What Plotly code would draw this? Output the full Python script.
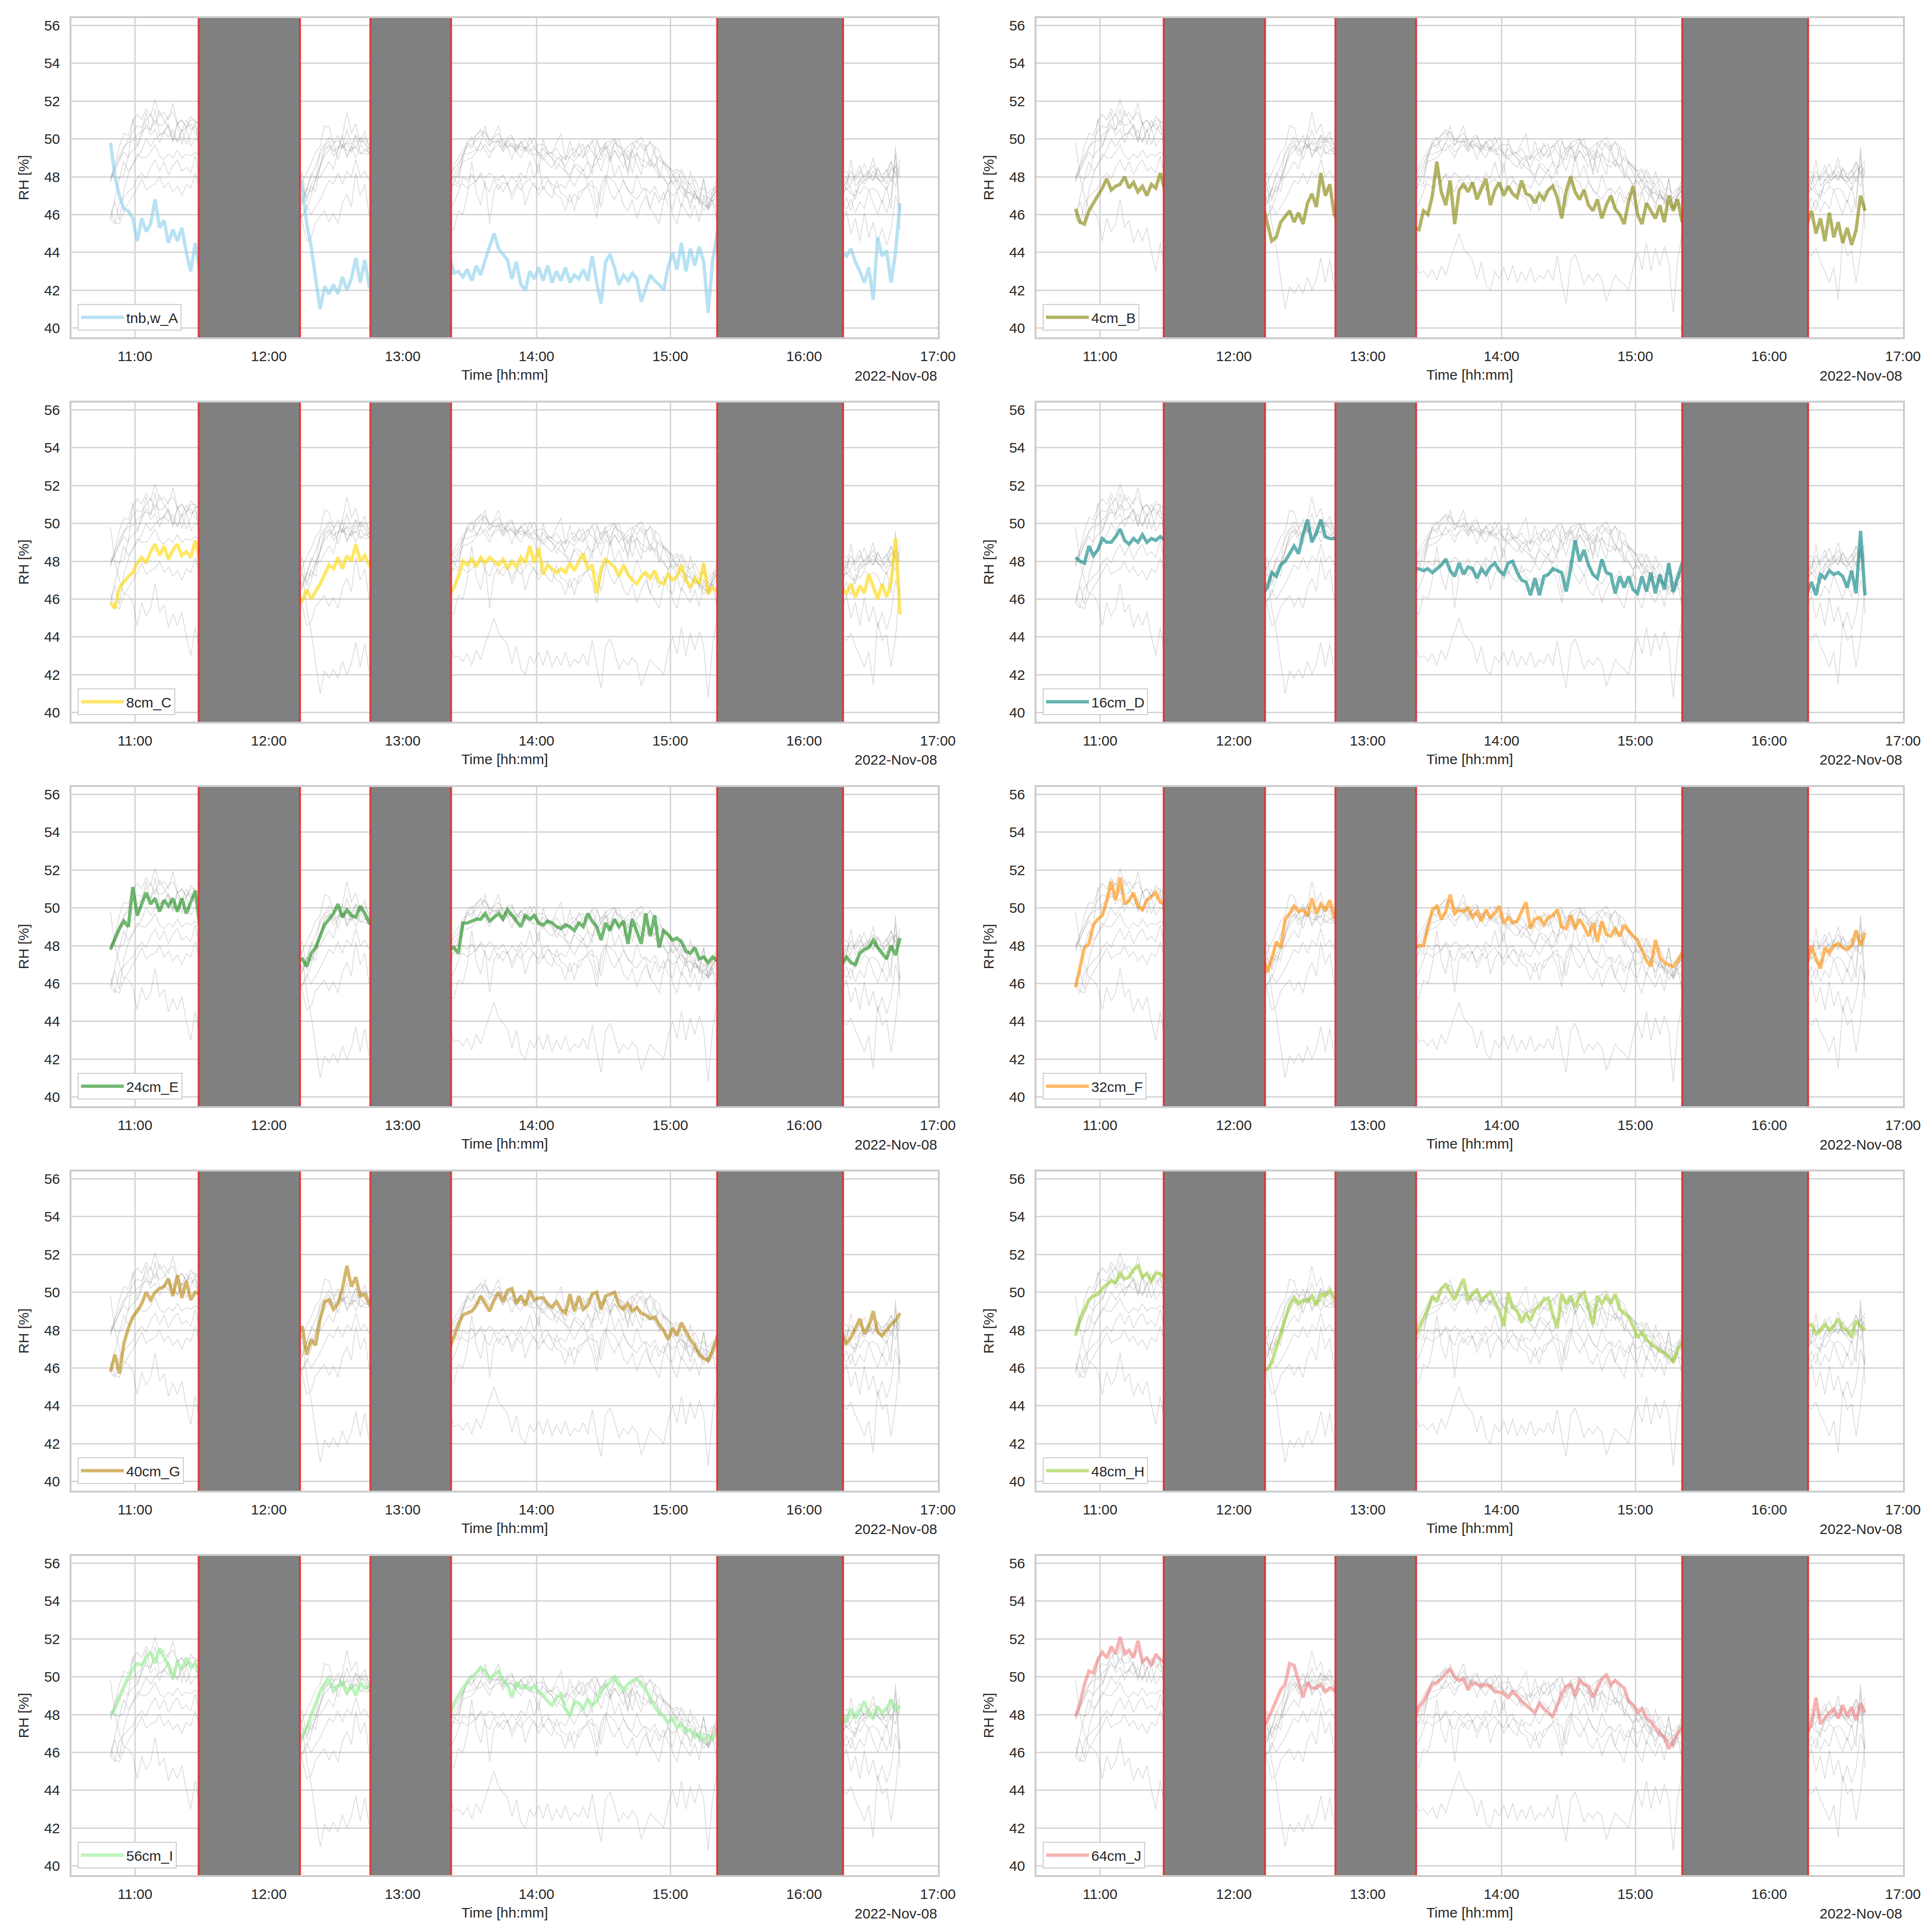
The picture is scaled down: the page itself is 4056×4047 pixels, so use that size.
import pandas as pd
import plotly.graph_objects as go
from plotly.subplots import make_subplots

W, H = 4056, 4047
day = "2022-11-08"

# sampling grid: each measurement block starts here, one value every 2 min
seg_start = ["10:49", "12:13", "13:21", "16:17"]
step = "2min"

labels = ["tnb,w_A", "4cm_B", "8cm_C", "16cm_D", "24cm_E",
          "32cm_F", "40cm_G", "48cm_H", "56cm_I", "64cm_J"]
colors = ["rgba(135,206,235,0.6)", "rgba(128,128,0,0.6)", "rgba(255,215,0,0.6)",
          "rgba(0,128,128,0.6)", "rgba(0,128,0,0.55)", "rgba(255,140,0,0.6)",
          "rgba(184,134,11,0.6)", "rgba(154,205,50,0.6)", "rgba(144,238,144,0.6)",
          "rgba(240,128,128,0.6)"]

# gray (excluded) periods
band_start = ["11:28:30", "12:45:30", "15:21:00"]
band_end = ["12:14:00", "13:21:45", "16:17:30"]

rh_A = [[49.8, 48.0, 47.0, 46.3, 46.2, 45.8, 44.6, 45.8, 45.1, 45.5, 46.8, 45.3, 45.7, 44.5, 45.2, 44.6, 45.3, 44.0, 43.0, 44.5, 43.1],
        [48.3, 47.5, 45.5, 44.3, 42.6, 41.0, 42.2, 41.8, 42.3, 41.8, 42.7, 42.0, 42.6, 43.7, 42.4, 43.6, 42.2, 42.0],
        [43.8, 42.9, 43.0, 42.7, 43.1, 42.5, 43.3, 42.8, 43.6, 44.3, 45.0, 44.2, 43.9, 43.6, 42.6, 43.5, 42.3, 42.0, 43.0, 42.6,
         43.2, 42.5, 43.3, 42.4, 43.0, 42.5, 43.2, 42.4, 42.8, 42.6, 43.1, 42.5, 43.8, 42.4, 41.3, 43.5, 43.9, 43.2, 42.3, 42.8,
         42.5, 42.9, 42.6, 41.4, 42.1, 42.8, 42.5, 42.3, 42.0, 43.2, 44.0, 43.1, 44.5, 43.0, 44.2, 43.3, 44.3, 43.5, 40.8, 43.6,
         45.0, 45.5],
        [44.0, 43.8, 44.2, 43.5, 43.0, 42.4, 43.2, 41.5, 44.8, 43.8, 44.1, 42.4, 44.0, 46.6]]

rh_B = [[46.3, 45.6, 45.5, 46.2, 46.6, 47.0, 47.4, 47.9, 47.3, 47.5, 47.6, 48.0, 47.4, 47.7, 47.2, 47.5, 47.0, 47.6, 47.4, 48.2, 47.3],
        [46.5, 45.6, 44.6, 44.8, 45.6, 45.9, 46.2, 45.6, 46.1, 45.5, 46.6, 47.1, 46.4, 48.2, 47.0, 47.6, 46.0, 45.6],
        [45.3, 45.2, 46.2, 46.0, 47.0, 48.8, 47.2, 46.5, 47.8, 45.5, 47.3, 47.6, 47.2, 47.7, 46.8, 47.4, 47.9, 46.5, 47.3, 47.7,
         47.0, 47.5, 47.1, 46.9, 47.8, 47.1, 47.0, 46.6, 47.1, 46.8, 47.3, 47.5, 46.9, 45.8, 47.2, 48.0, 47.2, 46.8, 47.3, 46.5,
         46.2, 46.8, 45.8, 46.5, 47.0, 46.3, 46.0, 45.5, 46.7, 47.5, 46.0, 45.5, 46.6, 46.2, 45.8, 46.5, 45.6, 47.0, 46.2, 46.8,
         45.6, 46.2],
        [45.5, 46.2, 45.0, 45.8, 44.6, 46.1, 44.8, 45.6, 44.5, 45.3, 44.4, 45.2, 47.0, 46.2]]

rh_C = [[45.8, 45.5, 46.6, 46.9, 47.2, 47.4, 47.9, 48.2, 47.9, 48.5, 48.9, 48.3, 48.8, 48.1, 48.6, 48.9, 48.3, 48.5, 48.2, 49.1, 48.0],
        [46.1, 45.9, 46.5, 46.0, 46.4, 46.8, 47.3, 47.8, 47.6, 48.2, 47.6, 48.3, 48.0, 48.9, 48.0, 48.3, 47.8, 48.0],
        [46.2, 46.6, 47.2, 48.0, 47.8, 48.1, 47.7, 48.2, 47.9, 48.2, 48.0, 47.8, 48.1, 47.6, 48.0, 47.7, 48.2, 47.9, 48.8, 47.9,
         48.7, 47.3, 47.8, 47.6, 47.4, 47.6, 47.4, 47.9, 47.5, 48.0, 48.4, 47.6, 47.8, 46.3, 47.6, 48.1, 47.9, 47.7, 47.2, 47.8,
         47.3, 47.0, 46.8, 47.2, 47.4, 47.1, 47.5, 46.9, 46.8, 47.3, 47.0, 47.2, 47.8, 47.0, 46.6, 47.1, 46.8, 47.9, 46.3, 46.6,
         46.4, 46.5],
        [46.6, 46.3, 46.8, 46.1, 46.7, 46.3, 47.3, 46.6, 46.0, 46.8, 46.1, 46.9, 49.2, 45.2]]

rh_D = [[48.2, 48.0, 47.9, 48.8, 48.3, 48.6, 49.2, 49.0, 49.0, 49.3, 49.7, 49.1, 48.9, 49.2, 49.0, 49.4, 49.0, 49.2, 49.1, 49.3, 49.1],
        [46.3, 46.6, 47.4, 47.2, 47.8, 48.0, 48.4, 48.8, 48.4, 49.4, 50.2, 49.0, 49.5, 50.2, 49.3, 49.2, 49.2, 49.2],
        [47.6, 47.6, 47.5, 47.6, 47.4, 47.6, 47.8, 48.1, 47.5, 47.2, 47.9, 47.3, 47.7, 47.6, 47.1, 47.6, 47.3, 47.7, 47.9, 47.5,
         47.3, 47.9, 48.0, 47.4, 47.0, 46.9, 46.2, 47.1, 46.2, 47.2, 47.3, 47.6, 47.5, 47.4, 46.4, 47.6, 49.1, 48.0, 48.6, 47.8,
         47.3, 47.1, 48.1, 47.4, 47.3, 46.3, 47.2, 46.6, 47.2, 46.5, 46.3, 47.2, 46.4, 47.4, 46.3, 47.3, 46.5, 47.9, 46.4, 47.2,
         47.9, 46.6],
        [46.3, 46.9, 46.2, 47.3, 47.1, 47.5, 47.3, 47.4, 47.2, 46.6, 47.5, 46.3, 49.6, 46.2]]

rh_E = [[47.8, 48.4, 48.9, 49.3, 49.0, 51.1, 49.6, 50.2, 50.8, 50.2, 50.5, 49.8, 50.4, 50.1, 50.5, 49.8, 50.5, 49.7, 50.3, 50.9, 49.1],
        [47.2, 47.3, 46.9, 47.6, 47.9, 48.5, 49.1, 49.4, 49.7, 50.2, 49.5, 49.9, 49.6, 49.5, 50.1, 49.7, 49.2, 49.2],
        [47.8, 47.9, 47.6, 49.2, 49.2, 49.3, 49.4, 49.4, 49.7, 49.3, 49.5, 49.7, 49.4, 49.9, 49.6, 49.3, 49.0, 49.6, 49.4, 49.6,
         49.2, 49.1, 49.3, 49.2, 49.0, 48.9, 49.1, 49.0, 48.8, 49.2, 49.0, 49.7, 49.3, 49.0, 48.3, 49.2, 48.8, 49.4, 49.0, 49.3,
         48.1, 49.4, 48.7, 48.1, 49.7, 48.5, 49.6, 47.9, 48.8, 48.6, 48.3, 48.4, 48.2, 47.7, 47.6, 47.9, 47.3, 47.4, 47.1, 47.4,
         47.2, 47.2],
        [47.0, 47.4, 47.1, 47.0, 47.6, 47.8, 47.9, 48.3, 47.9, 47.6, 47.3, 48.0, 47.5, 48.4]]

rh_F = [[45.8, 46.9, 47.9, 48.1, 49.1, 49.4, 49.6, 50.4, 51.4, 50.4, 51.6, 50.2, 50.4, 50.8, 50.1, 49.9, 50.4, 50.6, 50.8, 50.3, 50.2],
        [47.5, 46.6, 47.3, 48.2, 47.9, 49.4, 49.7, 50.1, 49.8, 49.9, 49.6, 50.5, 49.7, 50.2, 49.9, 50.4, 49.5, 49.4],
        [47.9, 48.0, 48.0, 48.9, 49.9, 50.1, 49.4, 49.8, 50.7, 49.7, 49.9, 49.8, 50.0, 49.5, 49.8, 49.3, 49.9, 49.5, 49.7, 50.1,
         49.2, 49.5, 49.2, 49.3, 49.8, 50.3, 48.9, 49.4, 49.5, 49.1, 49.5, 49.6, 49.9, 49.0, 48.9, 49.6, 48.9, 49.4, 49.0, 48.5,
         49.2, 48.2, 49.3, 48.6, 48.5, 48.9, 48.5, 49.1, 48.8, 48.5, 48.3, 47.7, 47.2, 46.9, 48.3, 47.4, 47.1, 47.0, 46.9, 47.2,
         47.6, 47.0],
        [47.1, 48.0, 47.3, 46.8, 47.9, 47.6, 48.0, 48.1, 47.9, 47.8, 48.0, 48.8, 48.0, 48.7]]

rh_G = [[45.8, 46.7, 45.7, 47.3, 48.1, 48.7, 49.0, 49.4, 50.0, 49.6, 50.0, 50.2, 50.3, 50.7, 49.8, 50.9, 49.7, 50.6, 49.6, 50.0, 49.9],
        [47.8, 48.2, 46.7, 47.5, 47.2, 48.6, 49.5, 49.6, 49.1, 49.4, 50.2, 51.4, 50.3, 50.8, 49.8, 49.9, 49.4, 49.4],
        [47.0, 47.7, 48.3, 48.8, 48.9, 49.0, 49.3, 49.8, 49.4, 49.0, 49.6, 50.0, 49.5, 50.1, 50.2, 49.4, 49.8, 49.3, 50.1, 49.6,
         49.7, 49.7, 49.4, 49.2, 49.5, 49.1, 48.9, 49.9, 49.0, 49.8, 49.1, 49.3, 49.9, 50.0, 49.1, 49.8, 49.9, 50.0, 49.3, 49.1,
         49.4, 49.0, 49.2, 48.9, 48.8, 48.6, 48.7, 48.3, 48.0, 47.5, 48.1, 47.7, 48.4, 47.9, 47.5, 47.2, 46.7, 46.5, 46.4, 46.9,
         47.6, 47.5],
        [47.8, 47.3, 47.6, 48.1, 48.6, 47.8, 48.2, 49.0, 47.9, 47.7, 48.0, 48.3, 48.5, 48.9]]

rh_H = [[47.7, 48.6, 49.1, 49.6, 49.8, 49.9, 50.2, 50.4, 50.6, 50.5, 51.0, 50.7, 50.8, 51.2, 51.4, 50.8, 51.0, 50.6, 51.0, 51.0, 50.7],
        [45.9, 45.9, 46.3, 47.0, 47.8, 48.6, 49.3, 49.7, 49.4, 49.6, 49.5, 49.8, 49.3, 49.9, 49.8, 50.1, 49.7, 49.6],
        [47.6, 48.1, 48.5, 49.1, 49.8, 49.5, 50.2, 50.4, 50.0, 49.6, 50.2, 50.7, 49.6, 49.9, 50.1, 49.6, 49.8, 50.0, 49.5, 49.0,
         48.2, 50.0, 49.2, 49.0, 48.4, 48.9, 48.5, 49.1, 49.3, 49.6, 49.7, 48.8, 48.1, 49.9, 49.4, 49.8, 49.2, 49.8, 50.0, 49.1,
         48.3, 49.8, 49.4, 49.8, 49.4, 49.9, 49.1, 48.9, 48.7, 48.2, 47.6, 47.9, 47.5, 47.3, 47.1, 46.9, 46.8, 46.6, 46.3, 47.0,
         47.3, 47.2],
        [48.2, 48.3, 47.8, 48.0, 48.3, 48.0, 48.2, 48.6, 48.1, 48.0, 47.6, 48.5, 48.2, 48.0]]

rh_I = [[48.0, 48.3, 48.9, 49.5, 50.0, 50.4, 50.7, 50.6, 51.0, 51.3, 50.7, 51.5, 51.0, 50.6, 49.9, 50.8, 50.4, 51.0, 50.5, 50.7, 50.2],
        [46.6, 46.9, 47.3, 48.0, 48.6, 49.2, 49.6, 49.9, 49.3, 49.5, 49.7, 49.1, 49.6, 49.0, 49.7, 49.4, 49.5, 49.5],
        [48.0, 48.6, 49.0, 49.4, 49.7, 50.0, 50.2, 50.5, 50.3, 49.9, 50.1, 50.3, 49.8, 49.6, 48.9, 49.7, 49.4, 49.5, 49.3, 49.5,
         49.2, 49.0, 48.7, 48.5, 48.9, 49.1, 48.3, 47.9, 48.7, 48.6, 48.3, 48.8, 48.5, 48.7, 49.3, 49.5, 49.7, 50.0, 49.6, 49.3,
         49.6, 49.8, 49.9, 49.6, 49.3, 48.9, 48.4, 48.1, 47.9, 47.6, 47.8, 47.3, 47.5, 47.1, 47.2, 46.8, 47.0, 46.6, 46.9, 46.7,
         47.1, 47.0],
        [48.1, 47.6, 48.3, 47.8, 48.2, 48.7, 48.0, 47.8, 48.4, 48.1, 48.3, 48.8, 48.2, 48.5]]

rh_J = [[47.9, 48.6, 49.6, 50.3, 50.2, 50.9, 51.3, 51.0, 51.6, 51.2, 52.1, 51.2, 51.4, 51.0, 51.9, 50.8, 51.0, 50.6, 51.2, 50.9, 50.8],
        [47.3, 47.7, 48.2, 48.7, 49.3, 49.6, 50.7, 50.6, 49.8, 48.9, 49.7, 49.4, 49.4, 49.6, 49.2, 49.4, 49.3, 49.4],
        [47.9, 48.4, 48.7, 49.2, 49.6, 49.7, 49.9, 50.2, 50.4, 50.0, 49.8, 49.9, 49.3, 49.7, 49.6, 49.5, 49.6, 49.5, 49.2, 49.2,
         49.1, 48.9, 49.2, 49.0, 48.7, 48.5, 48.3, 48.1, 48.6, 48.3, 48.1, 47.9, 48.5, 49.1, 49.5, 49.6, 49.0, 49.8, 49.6, 49.5,
         48.9, 49.4, 49.9, 50.1, 49.6, 49.8, 49.6, 49.4, 48.7, 48.5, 48.1, 48.3, 47.8, 47.6, 47.3, 47.0, 46.8, 46.2, 46.6, 47.0,
         47.3, 47.3],
        [47.0, 47.5, 48.9, 47.5, 47.8, 48.1, 48.3, 47.8, 48.5, 47.9, 48.4, 47.7, 48.6, 48.1]]

series = [rh_A, rh_B, rh_C, rh_D, rh_E, rh_F, rh_G, rh_H, rh_I, rh_J]


def to_xy(segs):
    xs, ys = [], []
    for start, vals in zip(seg_start, segs):
        t = pd.date_range(f"{day} {start}", periods=len(vals), freq=step)
        xs += list(t) + [None]
        ys += list(vals) + [None]
    return xs, ys


font = dict(family="Liberation Sans, Arial, sans-serif", size=30, color="#262626")

fig = make_subplots(rows=5, cols=2)

col_x = [(142 / W, 1961 / W), (2168 / W, 3987 / W)]
panel_h = 670
row_top = [30, 837, 1644, 2451, 3258]

for i, (lab, col, segs) in enumerate(zip(labels, colors, series)):
    r, c = i // 2 + 1, i % 2 + 1
    n = i + 1
    sfx = "" if n == 1 else str(n)
    # other sensors in gray
    for j, other in enumerate(series):
        if j == i:
            continue
        x, y = to_xy(other)
        fig.add_trace(go.Scatter(x=x, y=y, mode="lines", showlegend=False, hoverinfo="skip",
                                 line=dict(color="rgba(120,120,120,0.32)", width=1.4)), row=r, col=c)
    x, y = to_xy(segs)
    fig.add_trace(go.Scatter(x=x, y=y, mode="lines", name=lab, legend="legend" + sfx,
                             line=dict(color=col, width=7)), row=r, col=c)

    y0 = 1 - (row_top[r - 1] + panel_h) / H
    y1 = 1 - row_top[r - 1] / H
    x0, x1 = col_x[c - 1]
    fig.layout["xaxis" + sfx].domain = [x0, x1]
    fig.layout["yaxis" + sfx].domain = [y0, y1]

    fig.layout["legend" + sfx] = dict(x=x0 + 13 / W, y=y0 + 14 / H, xanchor="left", yanchor="bottom",
                                      bgcolor="white", bordercolor="#cccccc", borderwidth=2,
                                      font=font, itemwidth=90)

    for bs, be in zip(band_start, band_end):
        fig.add_shape(type="rect", xref="x" + sfx, yref="y" + sfx + " domain",
                      x0=f"{day} {bs}", x1=f"{day} {be}", y0=0, y1=1,
                      fillcolor="#808080", line_width=0, layer="above")
        for edge in (bs, be):
            fig.add_shape(type="line", xref="x" + sfx, yref="y" + sfx + " domain",
                          x0=f"{day} {edge}", x1=f"{day} {edge}", y0=0, y1=1,
                          line=dict(color="rgba(228,40,40,0.85)", width=4), layer="above")

    fig.add_annotation(text="2022-Nov-08", xref="x" + sfx + " domain", yref="y" + sfx + " domain",
                       x=1, y=-80 / panel_h, xanchor="right", yanchor="middle", showarrow=False, font=font)

fig.update_xaxes(range=[f"{day} 10:31:30", f"{day} 17:00:00"], tickformat="%H:%M",
                 tick0=f"{day} 11:00", dtick=3600000, showgrid=True, gridcolor="#d6d6d6", gridwidth=2.5,
                 showline=True, linecolor="#cccccc", linewidth=4, mirror=True, zeroline=False,
                 ticks="outside", ticklen=10, tickcolor="rgba(0,0,0,0)", tickfont=font,
                 title=dict(text="Time [hh:mm]", font=font, standoff=14))
fig.update_yaxes(range=[39.51, 56.39], tick0=40, dtick=2, showgrid=True, gridcolor="#d6d6d6", gridwidth=2.5,
                 showline=True, linecolor="#cccccc", linewidth=4, mirror=True, zeroline=False,
                 ticks="outside", ticklen=14, tickcolor="rgba(0,0,0,0)", tickfont=font,
                 title=dict(text="RH [%]", font=font, standoff=24))

fig.update_layout(width=W, height=H, paper_bgcolor="white", plot_bgcolor="white",
                  margin=dict(l=0, r=0, t=0, b=0, autoexpand=False), font=font)

fig.write_html("out.html")
